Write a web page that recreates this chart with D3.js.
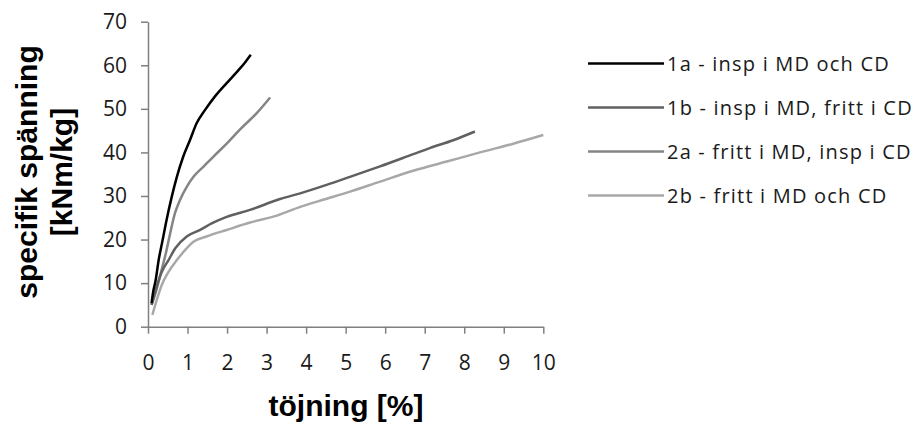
<!DOCTYPE html>
<html>
<head>
<meta charset="utf-8">
<script src="https://cdn.jsdelivr.net/npm/d3@7"></script>
<style>
  body { margin: 0; background: #fff; }
  .tick text { font-family: "Open Sans", sans-serif; font-size: 21px; fill: #1a1a1a; }
  .axis path, .axis line { stroke: #808080; stroke-width: 1.5; }
  .title { font-family: "Liberation Sans", Arial, sans-serif; font-weight: bold; font-size: 30px; fill: #000; }
  .legend text { font-family: "Open Sans", sans-serif; font-size: 20px; fill: #1a1a1a; letter-spacing: 1.2px; }
  .line { fill: none; stroke-width: 2.5; stroke-linejoin: round; }
</style>
</head>
<body>
<svg id="chart" width="920" height="427"></svg>
<script>
// strain [%] and specific stress [kNm/kg]
var names = ["1a - insp i MD och CD", "1b - insp i MD, fritt i CD", "2a - fritt i MD, insp i CD", "2b - fritt i MD och CD"];
var colors = ["#000000", "#606060", "#858585", "#a8a8a8"];

var s1a = [[0.09,5.4],[0.13,8],[0.19,10.5],[0.27,15.3],[0.37,19.9],[0.47,24.5],[0.6,29.8],[0.73,34.4],[0.89,39],[1.06,42.8],[1.23,46.7],[1.44,49.7],[1.69,52.8],[1.99,55.9],[2.25,58.5],[2.45,60.6],[2.6,62.4]];
var s1b = [[0.09,5],[0.22,9.2],[0.35,12.6],[0.52,15.3],[0.69,18],[0.98,20.7],[1.32,22.2],[1.61,23.7],[1.99,25.2],[2.58,26.8],[3.34,29.3],[3.85,30.6],[4.5,32.5],[5.11,34.4],[5.87,36.8],[6.71,39.6],[7.13,41],[7.72,42.8],[8.27,44.8]];
var s2a = [[0.09,5],[0.19,7.7],[0.32,12.2],[0.45,16.8],[0.56,21.4],[0.68,26],[0.81,29.1],[0.98,32.1],[1.15,34.4],[1.4,36.7],[1.65,39],[1.99,42],[2.33,45.3],[2.75,49],[3.09,52.6]];
var s2b = [[0.11,2.7],[0.22,6.1],[0.35,9.6],[0.52,12.6],[0.73,15.3],[0.9,17.2],[1.15,19.5],[1.48,20.7],[1.99,22.2],[2.58,23.9],[3.26,25.5],[3.85,27.5],[4.5,29.3],[5.11,31],[5.87,33.3],[6.71,35.8],[7.56,37.9],[8.4,40],[9.24,42],[10,44]];
var series = [s1a, s1b, s2a, s2b];

var xTicks = d3.range(0, 11, 1);
var yTicks = d3.range(0, 71, 10);

var svg = d3.select("#chart"),
    margin = {top: 21.7, left: 148},
    width = 395.3,
    height = 305,
    g = svg.append("g").attr("transform", "translate(" + margin.left + "," + margin.top + ")");

var x = d3.scaleLinear().domain([0, 10]).range([0, width]);
var y = d3.scaleLinear().domain([0, 70]).range([height, 0]);

g.append("g")
    .attr("class", "axis")
    .attr("transform", "translate(0," + height + ")")
    .call(d3.axisBottom(x).tickValues(xTicks).tickSize(7).tickSizeOuter(0).tickPadding(21));

g.append("g")
    .attr("class", "axis")
    .call(d3.axisLeft(y).tickValues(yTicks).tickSize(7).tickSizeOuter(0).tickPadding(14));

var line = d3.line()
    .curve(d3.curveMonotoneX)
    .x(function(d) { return x(d[0]); })
    .y(function(d) { return y(d[1]); });

// lighter curves first so the black one stays on top
[3, 2, 1, 0].forEach(function(i) {
  g.append("path")
      .datum(series[i])
      .attr("class", "line")
      .attr("stroke", colors[i])
      .attr("d", line);
});

// axis titles
svg.append("text")
    .attr("class", "title")
    .attr("text-anchor", "middle")
    .attr("x", 346)
    .attr("y", 416)
    .text("töjning [%]");

var yt = svg.append("text")
    .attr("class", "title")
    .attr("text-anchor", "middle")
    .attr("transform", "translate(37,172) rotate(-90)");
yt.append("tspan").attr("x", 0).attr("y", 0).text("specifik spänning");
yt.append("tspan").attr("x", 0).attr("y", 35).text("[kNm/kg]");

// legend
var legend = svg.append("g").attr("class", "legend");
names.forEach(function(n, i) {
  var ly = 63.5 + i * 44;
  legend.append("line")
      .attr("x1", 588).attr("x2", 664)
      .attr("y1", ly).attr("y2", ly)
      .attr("stroke", colors[i]).attr("stroke-width", 2.5);
  legend.append("text")
      .attr("x", 667).attr("y", ly)
      .attr("dy", "0.35em")
      .text(n);
});
</script>
</body>
</html>
